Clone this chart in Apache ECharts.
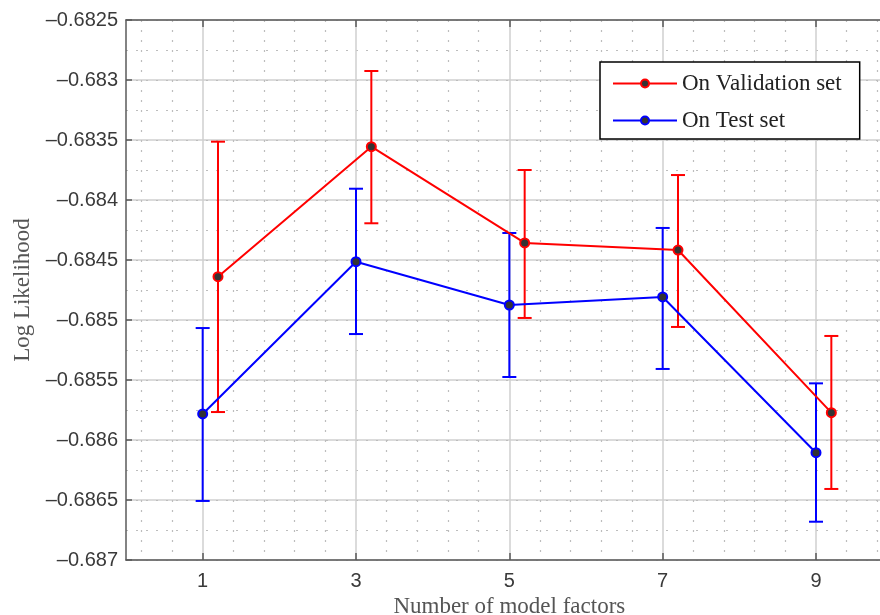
<!DOCTYPE html>
<html>
<head>
<meta charset="utf-8">
<script src="https://cdn.jsdelivr.net/npm/echarts@6/dist/echarts.min.js"></script>
<style>html,body{margin:0;padding:0;background:#fff}#c{width:880px;height:615px}</style>
</head>
<body>
<div id="c"></div>
<script>
// ---- data ----
const valX = [1.2, 3.2, 5.2, 7.2, 9.2];
const valMean = [-0.684639, -0.683556, -0.684358, -0.684417, -0.685772];
const valLow  = [-0.685767, -0.684194, -0.684983, -0.685058, -0.686408];
const valHigh = [-0.683514, -0.682925, -0.683750, -0.683792, -0.685133];

const testX = [1, 3, 5, 7, 9];
const testMean = [-0.685783, -0.684514, -0.684875, -0.684808, -0.686106];
const testLow  = [-0.686508, -0.685117, -0.685475, -0.685408, -0.686681];
const testHigh = [-0.685067, -0.683906, -0.684275, -0.684233, -0.685528];

const xTicks = [1, 3, 5, 7, 9];
const xMinorTicks = [0.2, 0.6, 1.4, 1.8, 2.2, 2.6, 3.4, 3.8, 4.2, 4.6, 5.4, 5.8, 6.2, 6.6, 7.4, 7.8, 8.2, 8.6, 9.4, 9.8];
const yMin = -0.687, yMax = -0.6825, yStep = 0.0005, yMinorStep = 0.00025;

const seriesNames = ['On Validation set', 'On Test set'];
const xName = 'Number of model factors';
const yName = 'Log Likelihood';

// ---- chart ----
const zip = (a, b) => a.map((v, i) => [v, b[i]]);
const zip3 = (a, b, c) => a.map((v, i) => [v, b[i], c[i]]);
const axisCol = '#5a5a5a';
const sansFont = '"Liberation Sans", Arial, Helvetica, sans-serif';
const serifFont = '"Liberation Serif", "Times New Roman", serif';

function errorBar(color) {
  return function (params, api) {
    const x = api.value(0);
    const lo = api.coord([x, api.value(1)]);
    const hi = api.coord([x, api.value(2)]);
    const hw = 7;
    const st = { stroke: color, lineWidth: 2 };
    return {
      type: 'group',
      children: [
        { type: 'line', shape: { x1: lo[0], y1: lo[1], x2: hi[0], y2: hi[1] }, style: st },
        { type: 'line', shape: { x1: lo[0] - hw, y1: lo[1], x2: lo[0] + hw, y2: lo[1] }, style: st },
        { type: 'line', shape: { x1: hi[0] - hw, y1: hi[1], x2: hi[0] + hw, y2: hi[1] }, style: st }
      ]
    };
  };
}

const chart = echarts.init(document.getElementById('c'), null, { renderer: 'canvas' });
chart.setOption({
  animation: false,
  backgroundColor: '#fff',
  grid: { left: 126, top: 20, width: 766.67, height: 540, containLabel: false, outerBoundsMode: 'none' },
  legend: {
    orient: 'vertical', left: 600, top: 62,
    padding: [10, 18, 7, 12],
    itemWidth: 64, itemHeight: 10, itemGap: 14,
    borderColor: '#000', borderWidth: 1.5, backgroundColor: '#fff',
    textStyle: { fontFamily: serifFont, fontSize: 23, color: '#222' },
    data: seriesNames
  },
  xAxis: [
    {
      type: 'value', min: 0, max: 10, position: 'bottom',
      name: xName, nameLocation: 'middle', nameGap: 28,
      nameTextStyle: { fontFamily: serifFont, fontSize: 23, color: '#555' },
      axisLine: { show: true, onZero: false, lineStyle: { color: axisCol, width: 1.5 } },
      axisTick: { show: true, inside: true, length: 7, customValues: xTicks, lineStyle: { color: axisCol, width: 1.5 } },
      axisLabel: { customValues: xTicks, margin: 11, fontFamily: sansFont, fontSize: 20, color: '#3a3a3a' },
      splitLine: { show: true, customValues: xTicks, lineStyle: { color: '#cfcfcf', width: 1.5 } }
    },
    {
      type: 'value', min: 0, max: 10, position: 'top',
      axisLine: { show: true, onZero: false, lineStyle: { color: axisCol, width: 1.5 } },
      axisTick: { show: true, inside: true, length: 7, customValues: xTicks, lineStyle: { color: axisCol, width: 1.5 } },
      axisLabel: { show: false },
      splitLine: { show: false }
    },
    {
      type: 'value', min: 0, max: 10, position: 'bottom',
      axisLine: { show: false },
      axisTick: { show: false, customValues: xMinorTicks },
      axisLabel: { show: false },
      splitLine: { show: true, customValues: xMinorTicks, lineStyle: { color: '#bdbdbd', width: 1.2, type: [2, 8] } }
    }
  ],
  yAxis: [
    {
      type: 'value', min: yMin, max: yMax, interval: yStep, position: 'left',
      name: yName, nameLocation: 'middle', nameGap: 92,
      nameTextStyle: { fontFamily: serifFont, fontSize: 23, color: '#555' },
      axisLine: { show: true, onZero: false, lineStyle: { color: axisCol, width: 1.5 } },
      axisTick: { show: true, inside: true, length: 6, lineStyle: { color: axisCol, width: 1.5 } },
      axisLabel: {
        margin: 8, fontFamily: sansFont, fontSize: 20, color: '#3a3a3a',
        formatter: v => parseFloat(v.toFixed(5)).toString().replace('-', '\u2013')
      },
      splitLine: { show: true, lineStyle: { color: '#cfcfcf', width: 1.5 } }
    },
    {
      type: 'value', min: yMin, max: yMax, interval: yMinorStep, position: 'left',
      axisLine: { show: false }, axisTick: { show: false }, axisLabel: { show: false },
      splitLine: { show: true, lineStyle: { color: '#bdbdbd', width: 1.2, type: [2, 8] } }
    }
  ],
  series: [
    {
      name: seriesNames[0], type: 'line', data: zip(valX, valMean),
      symbol: 'circle', symbolSize: 9, z: 5,
      lineStyle: { color: '#ff0000', width: 2 },
      itemStyle: { color: '#333', borderColor: '#ff0000', borderWidth: 2 }
    },
    {
      name: seriesNames[1], type: 'line', data: zip(testX, testMean),
      symbol: 'circle', symbolSize: 9, z: 5,
      lineStyle: { color: '#0000ff', width: 2 },
      itemStyle: { color: '#333', borderColor: '#0000ff', borderWidth: 2 }
    },
    {
      name: 'valErr', type: 'custom', data: zip3(valX, valLow, valHigh),
      encode: { x: 0, y: [1, 2] }, renderItem: errorBar('#ff0000'), z: 4, silent: true
    },
    {
      name: 'testErr', type: 'custom', data: zip3(testX, testLow, testHigh),
      encode: { x: 0, y: [1, 2] }, renderItem: errorBar('#0000ff'), z: 4, silent: true
    }
  ]
});
</script>
</body>
</html>
